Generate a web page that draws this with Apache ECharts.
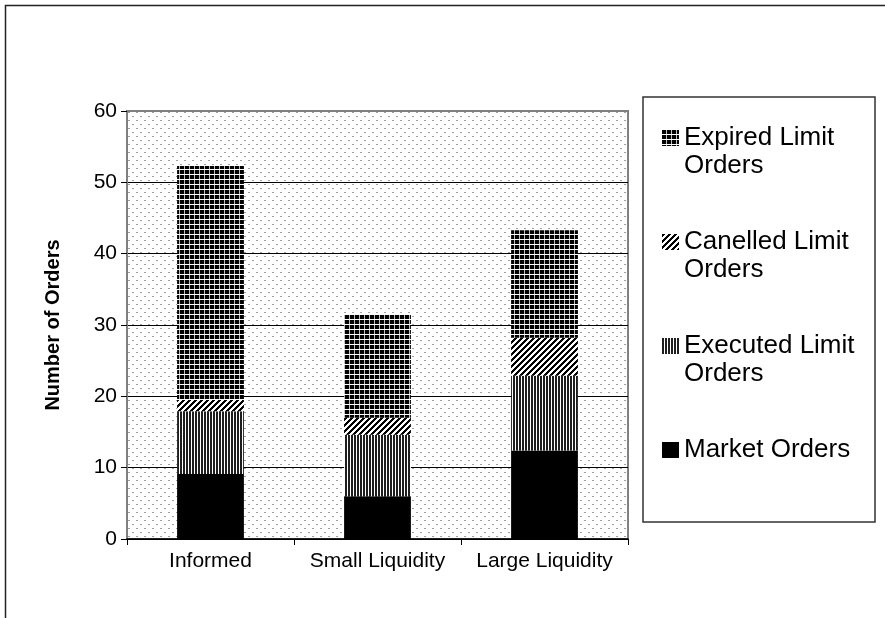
<!DOCTYPE html>
<html>
<head>
<meta charset="utf-8">
<script src="https://cdn.jsdelivr.net/npm/echarts@6/dist/echarts.min.js"></script>
<style>
html,body{margin:0;padding:0;background:#fff;}
#chart{width:885px;height:618px;}
</style>
</head>
<body>
<div id="chart"></div>
<script>
// ---- data ----
const categories = ['Informed', 'Small Liquidity', 'Large Liquidity'];
const marketOrders = [9.1, 6.0, 12.4];
const executedLimit = [8.8, 8.6, 10.5];
const cancelledLimit = [1.6, 2.4, 5.3];
const expiredLimit = [32.8, 14.5, 15.1];
const yTicks = [0, 10, 20, 30, 40, 50, 60];
const seriesNames = ['Market Orders', 'Executed Limit Orders', 'Canelled Limit Orders', 'Expired Limit Orders'];
const legendOrder = ['Expired Limit Orders', 'Canelled Limit Orders', 'Executed Limit Orders', 'Market Orders'];

// ---- patterns ----
function makePattern(w, h, fn) {
  const c = document.createElement('canvas');
  c.width = w; c.height = h;
  const ctx = c.getContext('2d');
  const img = ctx.createImageData(w, h);
  for (let y = 0; y < h; y++) {
    for (let x = 0; x < w; x++) {
      const v = fn(x, y);
      const i = (y * w + x) * 4;
      img.data[i] = v[0]; img.data[i + 1] = v[1]; img.data[i + 2] = v[2]; img.data[i + 3] = 255;
    }
  }
  ctx.putImageData(img, 0, 0);
  return { image: c, repeat: 'repeat' };
}
const BLACK = [0, 0, 0], WHITE = [255, 255, 255];
const patExpired = makePattern(5, 5, (x, y) => (y === 4) ? WHITE : (x === 4 ? [190, 190, 190] : BLACK));
const patCancelled = makePattern(6, 6, (x, y) => ((x + y) % 6) < 3 ? BLACK : WHITE);
const patExecuted = makePattern(3, 3, (x, y) => x < 2 ? [30, 30, 30] : WHITE);
const patBg = makePattern(8, 8, (x, y) => ((y === 0 && (x === 0 || x === 1)) || (y === 4 && (x === 4 || x === 5))) ? [160, 160, 160] : WHITE);

const colors = ['#000000', patExecuted, patCancelled, patExpired];
const dataArr = [marketOrders, executedLimit, cancelledLimit, expiredLimit];

const FONT = 'Liberation Sans, Arial, sans-serif';

const chart = echarts.init(document.getElementById('chart'), null, { renderer: 'canvas' });
const option = {
  animation: false,
  backgroundColor: '#ffffff',
  grid: {
    left: 127, right: 257, top: 111, bottom: 79,
    show: true,
    backgroundColor: patBg,
    borderColor: '#808080',
    borderWidth: 2,
    containLabel: false,
    outerBoundsMode: 'none'
  },
  legend: {
    orient: 'vertical',
    left: 657,
    top: 91,
    itemGap: 20,
    itemWidth: 17,
    itemHeight: 16,
    icon: 'rect',
    selectedMode: false,
    padding: 5,
    textStyle: { fontSize: 26, fontFamily: FONT, color: '#000', lineHeight: 28 },
    formatter: function (name) {
      // blank first line keeps the icon level with the first text line
      return name === 'Market Orders' ? ' \n' + name + '\n ' : ' \n' + name.replace(' Orders', '\nOrders');
    },
    data: legendOrder
  },
  xAxis: {
    type: 'category',
    data: categories,
    axisLine: { show: true, lineStyle: { color: '#000', width: 1.5 } },
    axisTick: { show: true, length: 6, lineStyle: { color: '#000' } },
    axisLabel: { fontSize: 21, fontFamily: FONT, color: '#000', margin: 12, interval: 0 },
    splitLine: { show: false }
  },
  yAxis: {
    type: 'value',
    min: 0, max: 60, interval: 10,
    name: 'Number of Orders',
    nameLocation: 'middle',
    nameGap: 64,
    nameTextStyle: { fontSize: 20, fontWeight: 'bold', fontFamily: FONT, color: '#000' },
    axisLine: { show: true, lineStyle: { color: '#808080', width: 2 } },
    axisTick: { show: true, length: 6, lineStyle: { color: '#000' } },
    axisLabel: {
      fontSize: 21, fontFamily: FONT, color: '#000', margin: 10,
      formatter: function (v) { return yTicks.indexOf(v) >= 0 ? String(v) : ''; }
    },
    splitLine: { show: true, lineStyle: { color: ['#000', '#000', '#000', '#000', '#000', '#000', '#808080'], width: 1 } }
  },
  series: seriesNames.map((n, i) => ({
    name: n,
    type: 'bar',
    stack: 'orders',
    barWidth: '40%',
    data: dataArr[i],
    itemStyle: { color: colors[i], borderWidth: 0 },
    emphasis: { disabled: true }
  })),
  graphic: [
    {
      type: 'rect', silent: true, z: -10,
      shape: { x: 5.5, y: 5.5, width: 1000, height: 1000 },
      style: { fill: 'none', stroke: '#222', lineWidth: 1.5 }
    },
    {
      type: 'rect', silent: true, z: -5,
      shape: { x: 643, y: 97, width: 232, height: 425 },
      style: { fill: '#fff', stroke: '#333', lineWidth: 1.5 }
    }
  ]
};
chart.setOption(option);
</script>
</body>
</html>
